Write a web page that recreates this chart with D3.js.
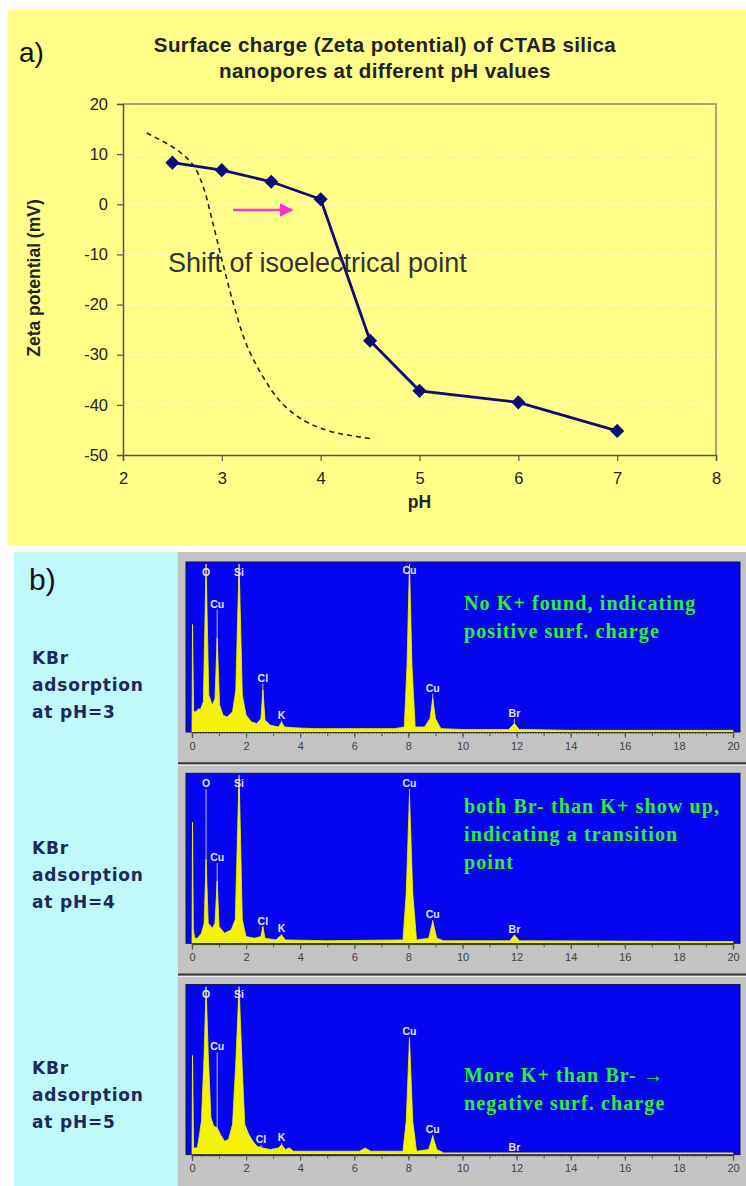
<!DOCTYPE html>
<html><head><meta charset="utf-8">
<script src="https://cdn.jsdelivr.net/npm/d3@7"></script>
<style>body{margin:0;background:#fff}svg{display:block}</style>
</head><body>
<svg id="c" width="746" height="1186"></svg>
<script>
// ---------- data: panel a ----------
const phValues   = [2.5, 3, 3.5, 4, 4.5, 5, 6, 7];
const zetaValues = [8.3, 6.8, 4.5, 1.0, -27.2, -37.2, -39.5, -45.2];
const refPh   = [2.24, 2.55, 2.72, 2.82, 2.9, 3.0, 3.12, 3.25, 3.42, 3.6, 3.82, 4.1, 4.5];
const refZeta = [14.2, 10.8, 7.5, 3, -3, -11, -20, -28, -34.5, -39.5, -43, -45.3, -46.7];
const xTicksA = [2, 3, 4, 5, 6, 7, 8];
const yTicksA = [20, 10, 0, -10, -20, -30, -40, -50];
const titleLines = ["Surface charge (Zeta potential) of CTAB silica", "nanopores at different pH values"];

// ---------- data: panel b (EDS spectra, keV vs relative counts %) ----------
const spectrumPH3 = [[0,0],[0.02,64],[0.06,12],[0.15,12],[0.25,14],[0.3,13],[0.42,18],[0.52,100],[0.62,22],[0.75,16],[0.85,20],[0.93,56],[1.02,16],[1.15,10],[1.3,9],[1.5,12],[1.62,25],[1.74,100],[1.86,22],[2.0,10],[2.2,6],[2.4,5],[2.55,8],[2.62,25],[2.7,7],[2.9,4],[3.2,3],[3.31,6],[3.42,3],[3.8,2.5],[4.5,2],[5.5,2],[6.5,2],[7.5,2],[7.85,3],[7.95,40],[8.04,100],[8.13,40],[8.25,3],[8.6,3],[8.8,8],[8.9,20],[9.0,8],[9.2,2],[10,1.5],[11.7,1.5],[11.92,5],[12.1,1.5],[14,1],[20,1]];
const spectrumPH4 = [[0,0],[0.02,72],[0.05,8],[0.1,3],[0.2,3],[0.35,6],[0.45,12],[0.52,50],[0.6,12],[0.75,9],[0.85,12],[0.93,37],[1.0,10],[1.2,6],[1.45,8],[1.6,14],[1.74,100],[1.86,14],[2.0,4],[2.3,3],[2.55,4],[2.62,10],[2.7,3],[3.1,2],[3.31,5],[3.45,2],[5,1.5],[7.8,2],[7.92,30],[8.04,88],[8.16,30],[8.3,2],[8.75,3],[8.9,13],[9.05,3],[9.3,1.5],[11.75,1.5],[11.92,5],[12.1,1.5],[20,1]];
const spectrumPH5 = [[0,0],[0.02,59],[0.06,4],[0.2,4],[0.35,20],[0.45,60],[0.52,100],[0.6,60],[0.7,22],[0.8,17],[0.93,16],[1.05,12],[1.2,8],[1.35,9],[1.5,18],[1.62,55],[1.74,100],[1.86,50],[1.95,18],[2.1,12],[2.25,8],[2.4,5],[2.6,4],[2.9,3],[3.2,4],[3.31,6],[3.45,3],[3.6,4],[3.75,2],[4.5,2],[6.2,2],[6.4,4],[6.6,2],[7.8,2],[7.92,20],[8.04,69],[8.16,20],[8.3,2],[8.75,3],[8.9,11],[9.05,3],[9.3,1],[20,1]];
const peakLabelsPH3 = [["O",0.52,93],["Si",1.74,93],["Cu",0.93,74],["Cl",2.62,30],["K",3.31,8],["Cu",8.04,94],["Cu",8.9,24],["Br",11.92,9]];
const peakLabelsPH4 = [["O",0.52,93],["Si",1.74,93],["Cu",0.93,49],["Cl",2.62,11],["K",3.31,6.5],["Cu",8.04,93],["Cu",8.9,15],["Br",11.92,6]];
const peakLabelsPH5 = [["O",0.52,93],["Si",1.74,93],["Cu",0.93,62],["Cl",2.55,7],["K",3.31,8],["Cu",8.04,71],["Cu",8.9,13],["Br",11.92,2]];
const sampleLabels = [["KBr","adsorption","at pH=3"],["KBr","adsorption","at pH=4"],["KBr","adsorption","at pH=5"]];
const notes = [["No K+ found, indicating","positive surf. charge"],["both Br- than K+ show up,","indicating a transition","point"],["More K+ than Br- \u2192","negative surf. charge"]];
const energyTicks = [0,2,4,6,8,10,12,14,16,18,20];

const svg = d3.select("#c");
const hy = v => String(v); // hyphen-minus tick labels

// ================= panel a =================
svg.append("rect").attr("x",8).attr("y",10).attr("width",738).attr("height",536).attr("fill","#fefe88");
svg.append("text").attr("x",19).attr("y",62).attr("font-family","Liberation Sans, Arial").attr("font-size",28).attr("fill","#111").text("a)");
svg.append("g").selectAll("text").data(titleLines).join("text")
  .attr("x",385).attr("y",(d,i)=>52+i*26).attr("text-anchor","middle")
  .attr("font-family","Liberation Sans, Arial").attr("font-weight","bold").attr("font-size",20.5)
  .attr("letter-spacing",0.4).attr("fill","#222").text(d=>d);

const xA = d3.scaleLinear().domain([2,8]).range([123,716]);
const yA = d3.scaleLinear().domain([-50,20]).range([455,104]);

// gridlines
svg.append("g").selectAll("line").data(yTicksA.filter(v=>v!==20&&v!==-50)).join("line")
  .attr("x1",xA(2)).attr("x2",xA(8)).attr("y1",d=>yA(d)).attr("y2",d=>yA(d))
  .attr("stroke","#ffffff").attr("stroke-width",1).attr("stroke-dasharray","3,3");
// plot border top/right
svg.append("path").attr("d",`M${xA(2)},${yA(20)}H${xA(8)}V${yA(-50)}`).attr("fill","none").attr("stroke","#8a8a70").attr("stroke-width",1.5);

const axX = svg.append("g").attr("transform",`translate(0,${yA(-50)})`)
  .call(d3.axisBottom(xA).tickValues(xTicksA).tickSize(6).tickPadding(11).tickFormat(hy));
const axY = svg.append("g").attr("transform",`translate(${xA(2)},0)`)
  .call(d3.axisLeft(yA).tickValues(yTicksA).tickSize(6).tickPadding(9).tickFormat(hy));
[axX,axY].forEach(g=>{
  g.select(".domain").attr("stroke","#555").attr("stroke-width",1.5);
  g.selectAll(".tick line").attr("stroke","#555").attr("stroke-width",1.2);
  g.selectAll(".tick text").attr("font-family","Liberation Sans, Arial").attr("font-size",16.5).attr("fill","#222");
});

svg.append("text").attr("transform","translate(40,278) rotate(-90)").attr("text-anchor","middle")
  .attr("font-family","Liberation Sans, Arial").attr("font-weight","bold").attr("font-size",17.5).attr("fill","#222").text("Zeta potential (mV)");
svg.append("text").attr("x",xA(5)).attr("y",508).attr("text-anchor","middle")
  .attr("font-family","Liberation Sans, Arial").attr("font-weight","bold").attr("font-size",17.5).attr("fill","#222").text("pH");

// reference dashed curve
svg.append("path").datum(d3.zip(refPh,refZeta))
  .attr("d",d3.line().x(d=>xA(d[0])).y(d=>yA(d[1])).curve(d3.curveCatmullRom))
  .attr("fill","none").attr("stroke","#222").attr("stroke-width",1.6).attr("stroke-dasharray","5,4");

// data line
const ptsA = d3.zip(phValues,zetaValues);
svg.append("path").datum(ptsA).attr("d",d3.line().x(d=>xA(d[0])).y(d=>yA(d[1])))
  .attr("fill","none").attr("stroke","#0d0d78").attr("stroke-width",2.8);
svg.append("g").selectAll("path").data(ptsA).join("path")
  .attr("transform",d=>`translate(${xA(d[0])},${yA(d[1])}) rotate(45)`)
  .attr("d",d3.symbol(d3.symbolSquare,100)).attr("fill","#0d0d78");

// arrow
svg.append("defs").append("marker").attr("id","ah").attr("viewBox","0 0 10 10").attr("refX",9).attr("refY",5)
  .attr("markerWidth",5.5).attr("markerHeight",5.5).attr("markerUnits","strokeWidth").attr("orient","auto")
  .append("path").attr("d","M0,0L10,5L0,10z").attr("fill","#ff33cc");
svg.append("line").attr("x1",233).attr("x2",292).attr("y1",210).attr("y2",210)
  .attr("stroke","#ff33cc").attr("stroke-width",2.5).attr("marker-end","url(#ah)");
svg.append("text").attr("x",168).attr("y",272).attr("font-family","Liberation Sans, Arial").attr("font-size",27)
  .attr("fill","#333").text("Shift of isoelectrical point");

// ================= panel b =================
svg.append("rect").attr("x",14).attr("y",552).attr("width",164).attr("height",634).attr("fill","#bff9fb");
svg.append("rect").attr("x",178).attr("y",552).attr("width",568).attr("height",634).attr("fill","#c3c3c3");
svg.append("text").attr("x",29).attr("y",590).attr("font-family","Liberation Sans, Arial").attr("font-size",30).attr("fill","#111").text("b)");

const spectra = [spectrumPH3, spectrumPH4, spectrumPH5];
const peakSets = [peakLabelsPH3, peakLabelsPH4, peakLabelsPH5];
const noteY = [610, 813, 1082];
const labelY = [664, 854, 1074];
const xE = d3.scaleLinear().domain([0,20]).range([192,733]);

spectra.forEach((spec,i)=>{
  const top = 552 + i*211.3;
  const bTop = top + 10, bBot = top + 180;
  const yE = d3.scaleLinear().domain([0,100]).range([bBot, bTop+2]);
  const g = svg.append("g");
  g.append("rect").attr("x",186).attr("y",bTop).attr("width",554).attr("height",bBot-bTop)
    .attr("fill","#0505f2").attr("stroke","#101050").attr("stroke-width",1);
  // peak marker lines + labels
  g.append("g").selectAll("line").data(peakSets[i]).join("line")
    .attr("x1",d=>xE(d[1])).attr("x2",d=>xE(d[1])).attr("y1",d=>yE(d[2])+2).attr("y2",bBot)
    .attr("stroke","#b8b8c8").attr("stroke-width",1);
  g.append("path").datum(spec)
    .attr("d",d3.area().x(d=>xE(d[0])).y0(bBot).y1(d=>yE(d[1])))
    .attr("fill","#f4f400").attr("stroke","#f4f400").attr("stroke-width",0.8);
  g.append("g").selectAll("text").data(peakSets[i]).join("text")
    .attr("x",d=>xE(d[1])).attr("y",d=>yE(d[2])).attr("text-anchor","middle")
    .attr("font-family","Liberation Sans, Arial").attr("font-weight","bold").attr("font-size",10.5)
    .attr("fill","#e4e4f0").text(d=>d[0]);
  // axis ruler
  const ax = g.append("g").attr("transform",`translate(0,${bBot})`);
  ax.call(d3.axisBottom(xE).tickValues(d3.range(0,201).map(v=>v/10)).tickSize(2).tickFormat(""));
  ax.append("g").call(d3.axisBottom(xE).tickValues(d3.range(0,21)).tickSize(4).tickFormat(""));
  ax.append("g").call(d3.axisBottom(xE).tickValues(energyTicks).tickSize(6).tickPadding(4).tickFormat(hy));
  ax.selectAll(".domain").attr("stroke","#333").attr("stroke-width",1.2);
  ax.selectAll(".tick line").attr("stroke","#555");
  ax.selectAll(".tick text").attr("font-family","Liberation Sans, Arial").attr("font-size",11).attr("fill","#444");
  // separator
  if(i<2){
    const sy = top + 211.3;
    g.append("line").attr("x1",178).attr("x2",746).attr("y1",sy).attr("y2",sy).attr("stroke","#3a3a3a").attr("stroke-width",2);
    g.append("line").attr("x1",178).attr("x2",746).attr("y1",sy+2).attr("y2",sy+2).attr("stroke","#eeeeee").attr("stroke-width",1);
  }
  // note text
  g.append("g").selectAll("text").data(notes[i]).join("text")
    .attr("x",464).attr("y",(d,k)=>noteY[i]+k*28)
    .attr("font-family","Liberation Serif, Times New Roman").attr("font-weight","bold").attr("font-size",20)
    .attr("letter-spacing",1.1).attr("fill","#2ef02e").text(d=>d);
  // sample labels
  svg.append("g").selectAll("text").data(sampleLabels[i]).join("text")
    .attr("x",32).attr("y",(d,k)=>labelY[i]+k*27)
    .attr("font-family","DejaVu Sans, Verdana").attr("font-weight","bold").attr("font-size",17)
    .attr("letter-spacing",0.8).attr("fill","#1c2a5a").text(d=>d);
});
</script>
</body></html>
